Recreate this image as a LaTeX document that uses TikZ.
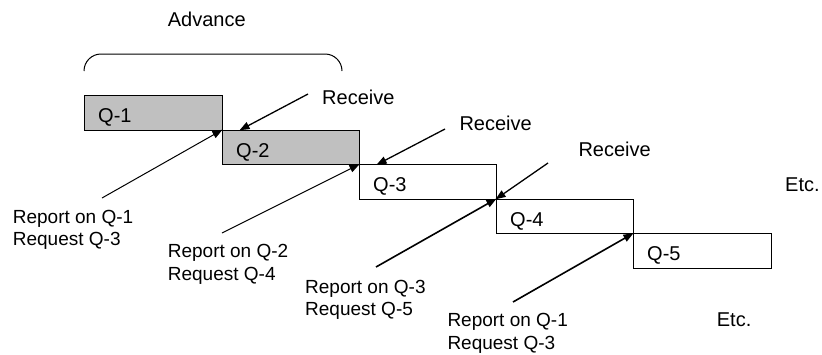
\documentclass[tikz,border=0pt]{standalone}
\usepackage{fontspec}
\setmainfont{Liberation Sans}
\usetikzlibrary{arrows.meta,calc}
\definecolor{boxgray}{RGB}{192,192,192}
\begin{document}
\begin{tikzpicture}[x=1pt,y=-1pt,
  qbox/.style={draw=black, line width=1pt, minimum width=137pt, minimum height=34.5pt,
    inner sep=0pt, outer sep=0pt, anchor=north west},
  qlabel/.style={font=\fontsize{20}{22}\selectfont, inner sep=0pt, anchor=base west},
  note/.style={font=\fontsize{20}{22}\selectfont, inner sep=0pt, anchor=base west},
  rep/.style={font=\fontsize{19}{22.5}\selectfont, inner sep=0pt, align=left, anchor=base west},
  arr/.style={line width=1.3pt, -{Triangle[length=10pt,width=7.5pt]}, shorten >=-0.5pt},
  thinarr/.style={arr, line width=1pt}
]
\useasboundingbox (0,0) rectangle (822,354);

% staircase of queue blocks
\node[qbox, fill=boxgray, minimum width=138pt] (q1) at (84,95.5) {};
\node[qbox, fill=boxgray] (q2) at (q1.south east) {};
\node[qbox] (q3) at (q2.south east) {};
\node[qbox] (q4) at (q3.south east) {};
\node[qbox, minimum width=138pt] (q5) at (q4.south east) {};

\foreach \i in {1,...,5}
  \node[qlabel] (l\i) at ($(q\i.south west)+(14,-7.5)$) {Q-\i};

% bracket over the advance window
\draw[line width=1pt, rounded corners=17pt] (84,71) -- (84,54) -- (342,54) -- (342,71);
\node[note] (adv) at (167.7,26) {Advance};

% receive notes
\node[note] (rc1) at (322,104) {Receive};
\node[note] (rc2) at (459.3,130.7) {Receive};
\node[note] (rc3) at (578.3,156) {Receive};
\coordinate (rs1) at (308,94);
\coordinate (rs2) at (445,129);
\coordinate (rs3) at (548,163);
\draw[arr] (rs1) -- ($(q2.north west)+(18,0)$);
\draw[arr] (rs2) -- ($(q3.north west)+(18,0)$);
\draw[arr] (rs3) -- (q4.north west);

% report / request notes (base anchor sits on the second line)
\node[rep] (rp1) at (12.7,245.5) {Report on Q-1\\Request Q-3};
\node[rep] (rp2) at (167.7,280.2) {Report on Q-2\\Request Q-4};
\node[rep] (rp3) at (305,315.8) {Report on Q-3\\Request Q-5};
\node[rep] (rp4) at (447.3,349.2) {Report on Q-1\\Request Q-3};
\coordinate (ps1) at (102,198);
\coordinate (ps2) at (222,233);
\coordinate (ps3) at (376,267);
\coordinate (ps4) at (513,302);
\draw[thinarr] (ps1) -- (q1.south east);
\draw[thinarr] (ps2) -- (q2.south east);
\draw[arr, line width=1.6pt] (ps3) -- (q3.south east);
\draw[arr, line width=1.6pt] (ps4) -- (q4.south east);

% continuation marks
\node[note] (etc1) at (785,191) {Etc.};
\node[note] (etc2) at (716.7,326.7) {Etc.};
\end{tikzpicture}
\end{document}
